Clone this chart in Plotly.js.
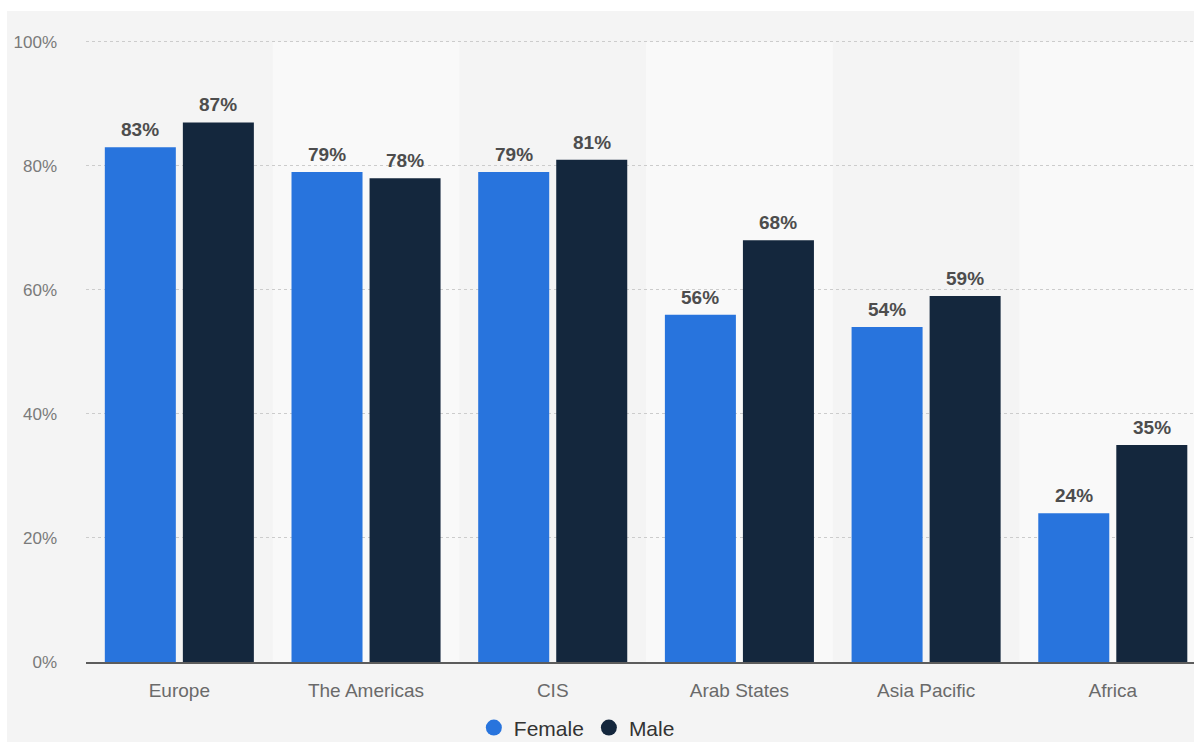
<!DOCTYPE html>
<html>
<head>
<meta charset="utf-8">
<script src="https://cdn.plot.ly/plotly-3.0.1.min.js"></script>
<style>
  html, body { margin: 0; padding: 0; background: #ffffff; width: 1194px; height: 742px; overflow: hidden; }
  #chart { position: absolute; left: 7px; top: 11px; width: 1187px; height: 731px; }
</style>
</head>
<body>
<div id="chart"></div>
<script>
const regions = ["Europe", "The Americas", "CIS", "Arab States", "Asia Pacific", "Africa"];
const female = [83, 79, 79, 56, 54, 24];
const male = [87, 78, 81, 68, 59, 35];
const yTickVals = [0, 20, 40, 60, 80, 100];
const yTickText = ["0%", "20%", "40%", "60%", "80%", "100%"];

const FEMALE_COLOR = "#2874dd";
const MALE_COLOR = "#14273d";
const FONT = "Liberation Sans, Arial, Helvetica, sans-serif";

const traces = [
  { type: "bar", name: "Female", x: regions, y: female, marker: { color: FEMALE_COLOR }, showlegend: false, hoverinfo: "skip" },
  { type: "bar", name: "Male", x: regions, y: male, marker: { color: MALE_COLOR }, showlegend: false, hoverinfo: "skip" },
  { type: "scatter", mode: "markers", name: "Female", x: [null], y: [null], marker: { color: FEMALE_COLOR, size: 22, symbol: "circle" }, hoverinfo: "skip" },
  { type: "scatter", mode: "markers", name: "Male", x: [null], y: [null], marker: { color: MALE_COLOR, size: 22, symbol: "circle" }, hoverinfo: "skip" }
];

const annotations = [];
regions.forEach((r, i) => {
  annotations.push({ x: r, y: female[i], xref: "x", yref: "y", text: female[i] + "%", showarrow: false,
    xanchor: "center", yanchor: "bottom", xshift: -39, yshift: 5,
    font: { family: FONT, size: 19, color: "#4d4d4d", weight: "bold" } });
  annotations.push({ x: r, y: male[i], xref: "x", yref: "y", text: male[i] + "%", showarrow: false,
    xanchor: "center", yanchor: "bottom", xshift: 39, yshift: 5,
    font: { family: FONT, size: 19, color: "#4d4d4d", weight: "bold" } });
});

const shapes = [];
regions.forEach((r, i) => {
  if (i % 2 === 1) {
    shapes.push({ type: "rect", xref: "x", yref: "y", x0: i - 0.5, x1: i + 0.5, y0: 0, y1: 100,
      fillcolor: "#f9f9f9", line: { width: 0 }, layer: "below" });
  }
});

const layout = {
  width: 1187,
  height: 731,
  paper_bgcolor: "#f4f4f4",
  plot_bgcolor: "#f4f4f4",
  margin: { l: 79, r: 0, t: 29, b: 80, autoexpand: false },
  barmode: "group",
  bargap: 0.164,
  bargroupgap: 0.09,
  font: { family: FONT },
  xaxis: {
    type: "category",
    range: [-0.5, 5.435],
    showgrid: false,
    showline: true,
    linecolor: "#5c5c5c",
    linewidth: 2,
    ticks: "",
    ticklabelstandoff: 10,
    tickfont: { family: FONT, size: 19, color: "#6a6a6a" },
    fixedrange: true
  },
  yaxis: {
    range: [0, 100.3],
    tickvals: yTickVals,
    ticktext: yTickText,
    showgrid: true,
    gridcolor: "#cccccc",
    gridwidth: 1,
    griddash: "dot",
    zeroline: false,
    showline: false,
    ticks: "",
    ticklabelstandoff: 28,
    tickfont: { family: FONT, size: 17, color: "#7a7a7a" },
    fixedrange: true
  },
  legend: {
    orientation: "h",
    x: 0.443,
    xanchor: "center",
    y: -0.073,
    yanchor: "top",
    bgcolor: "rgba(0,0,0,0)",
    font: { family: FONT, size: 21, color: "#333333" },
    itemsizing: "trace"
  },
  shapes: shapes,
  annotations: annotations,
  showlegend: true
};

Plotly.newPlot("chart", traces, layout, { displayModeBar: false, staticPlot: true });
</script>
</body>
</html>
